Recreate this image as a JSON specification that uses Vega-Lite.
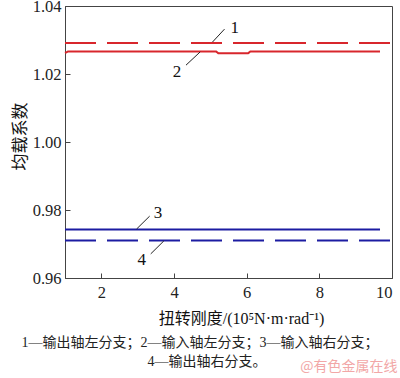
{
  "$schema": "https://vega.github.io/schema/vega-lite/v6.json",
  "width": 327,
  "height": 272,
  "autosize": {"type": "none"},
  "padding": {"left": 65, "top": 6, "right": 8, "bottom": 100},
  "background": "white",
  "config": {
    "view": {"stroke": "#444", "strokeWidth": 1},
    "font": "Liberation Serif, Noto Sans CJK SC",
    "axis": {
      "domainColor": "#444",
      "tickColor": "#444",
      "tickSize": -5,
      "grid": false,
      "labelFont": "Liberation Serif",
      "labelFontSize": 16.5,
      "labelColor": "#222",
      "titleFont": "Liberation Serif, Noto Sans CJK SC",
      "titleFontSize": 16,
      "titleFontWeight": "normal",
      "titleColor": "#111"
    }
  },
  "datasets": {
    "lines": [
      {"series": "1", "x": 1, "y": 1.0291},
      {"series": "1", "x": 10, "y": 1.0291},
      {"series": "2", "x": 1, "y": 1.0262},
      {"series": "2", "x": 1.08, "y": 1.0266},
      {"series": "2", "x": 5.16, "y": 1.0266},
      {"series": "2", "x": 5.22, "y": 1.0261},
      {"series": "2", "x": 6.04, "y": 1.0261},
      {"series": "2", "x": 6.1, "y": 1.0266},
      {"series": "2", "x": 9.67, "y": 1.0266},
      {"series": "3", "x": 1, "y": 0.9743},
      {"series": "3", "x": 9.67, "y": 0.9743},
      {"series": "4", "x": 1, "y": 0.971},
      {"series": "4", "x": 10, "y": 0.971}
    ],
    "leaders": [
      {"label": "1", "x": 5.06, "y": 1.0294, "x2": 5.39, "y2": 1.0332, "tx": 5.67, "ty": 1.0335},
      {"label": "2", "x": 4.72, "y": 1.0265, "x2": 4.33, "y2": 1.0226, "tx": 4.08, "ty": 1.0206},
      {"label": "3", "x": 2.97, "y": 0.9744, "x2": 3.33, "y2": 0.9782, "tx": 3.56, "ty": 0.9791},
      {"label": "4", "x": 3.72, "y": 0.9709, "x2": 3.36, "y2": 0.9671, "tx": 3.11, "ty": 0.9653}
    ],
    "notes": [
      {"text": "1—输出轴左分支；2—输入轴左分支；3—输入轴右分支；", "x": 4.716, "y": 0.9409},
      {"text": "4—输出轴右分支。", "x": 4.91, "y": 0.9353}
    ],
    "watermark": [
      {"text": "@有色金属在线", "x": 10.15, "y": 0.9337}
    ]
  },
  "layer": [
    {
      "data": {"name": "lines"},
      "mark": {"type": "line", "strokeWidth": 2, "clip": false},
      "encoding": {
        "x": {
          "field": "x", "type": "quantitative",
          "scale": {"domain": [1, 10], "nice": false, "zero": false},
          "axis": {
            "values": [2, 4, 6, 8, 10],
            "labelPadding": 11,
            "title": "扭转刚度/(10⁵N·m·rad⁻¹)",
            "titlePadding": 10,
            "titleX": 176
          }
        },
        "y": {
          "field": "y", "type": "quantitative",
          "scale": {"domain": [0.96, 1.04], "nice": false, "zero": false},
          "axis": {
            "values": [0.96, 0.98, 1.0, 1.02, 1.04],
            "format": ".2f",
            "labelPadding": 9,
            "title": "均载系数",
            "titleFontSize": 17,
            "titlePadding": 3,
            "titleY": 130
          }
        },
        "color": {
          "field": "series", "type": "nominal",
          "scale": {"domain": ["1", "2", "3", "4"], "range": ["#d8262c", "#d8262c", "#1c1ca2", "#1c1ca2"]},
          "legend": null
        },
        "strokeDash": {
          "field": "series", "type": "nominal",
          "scale": {"domain": ["1", "2", "3", "4"], "range": [[31, 11], [1, 0], [1, 0], [31, 11]]},
          "legend": null
        },
        "detail": {"field": "series"}
      }
    },
    {
      "data": {"name": "leaders"},
      "mark": {"type": "rule", "color": "#222", "strokeWidth": 1},
      "encoding": {
        "x": {"field": "x", "type": "quantitative"},
        "y": {"field": "y", "type": "quantitative"},
        "x2": {"field": "x2"},
        "y2": {"field": "y2"}
      }
    },
    {
      "data": {"name": "leaders"},
      "mark": {"type": "text", "font": "Liberation Serif", "fontSize": 17, "color": "#111", "align": "center", "baseline": "middle"},
      "encoding": {
        "x": {"field": "tx", "type": "quantitative"},
        "y": {"field": "ty", "type": "quantitative"},
        "text": {"field": "label"}
      }
    },
    {
      "data": {"name": "notes"},
      "mark": {"type": "text", "font": "Liberation Serif, Noto Sans CJK SC", "fontSize": 14, "color": "#222", "align": "center", "baseline": "middle", "clip": false},
      "encoding": {
        "x": {"field": "x", "type": "quantitative"},
        "y": {"field": "y", "type": "quantitative"},
        "text": {"field": "text"}
      }
    },
    {
      "data": {"name": "watermark"},
      "mark": {"type": "text", "font": "Noto Sans CJK SC", "fontSize": 14, "color": "#f2a7a7", "align": "right", "baseline": "middle", "clip": false},
      "encoding": {
        "x": {"field": "x", "type": "quantitative"},
        "y": {"field": "y", "type": "quantitative"},
        "text": {"field": "text"}
      }
    }
  ]
}
